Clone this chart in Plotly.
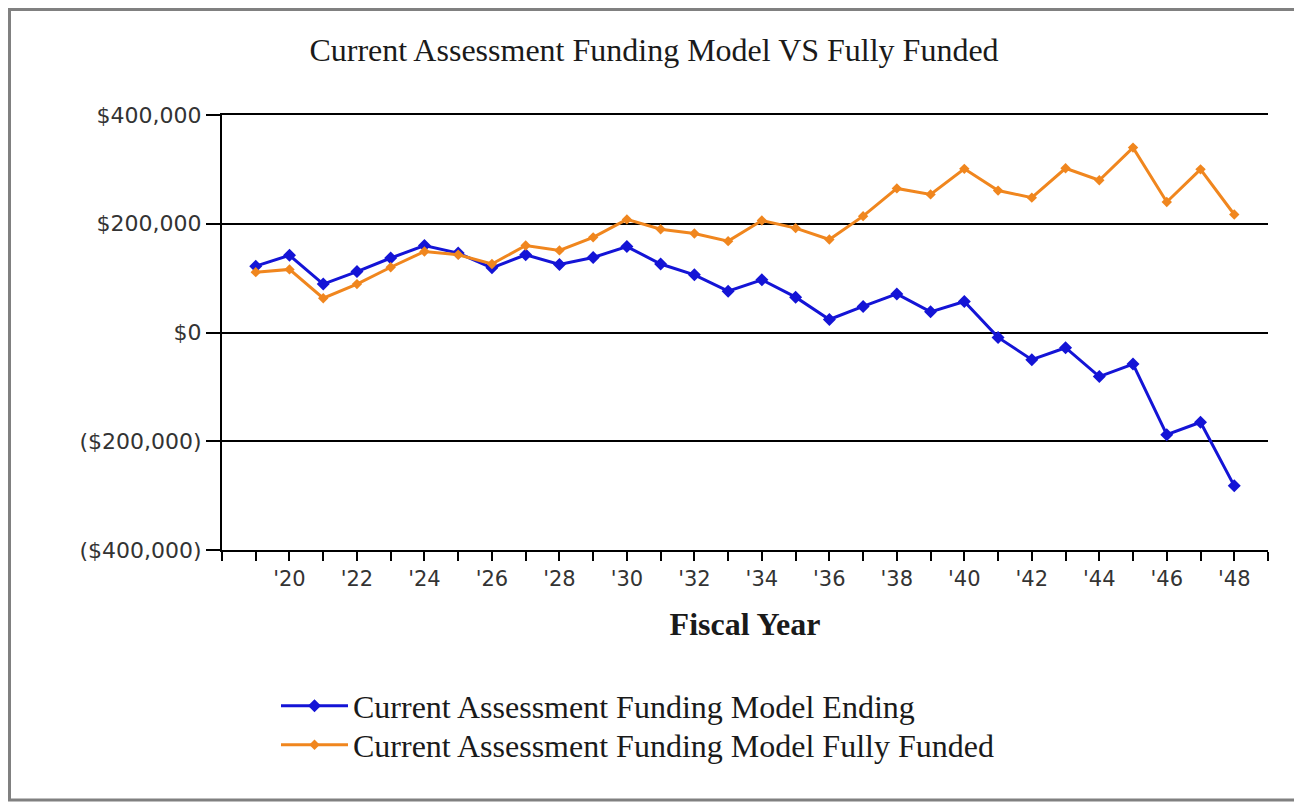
import plotly.graph_objects as go

years = list(range(2019, 2049))
ending = [122000, 142000, 89000, 112000, 137000, 160000, 146000, 119000, 143000, 125000,
          138000, 158000, 126000, 106000, 76000, 97000, 65000, 24000, 48000, 71000,
          38000, 57000, -9000, -50000, -28000, -81000, -58000, -188000, -165000, -282000]
fully_funded = [111000, 116000, 63000, 89000, 120000, 149000, 143000, 126000, 160000, 151000,
                175000, 208000, 190000, 182000, 168000, 206000, 192000, 171000, 214000, 265000,
                254000, 301000, 261000, 248000, 302000, 280000, 340000, 240000, 300000, 217000]
series_names = ["Current Assessment Funding Model Ending",
                "Current Assessment Funding Model Fully Funded"]
title_text = "Current Assessment Funding Model VS Fully Funded"
x_title = "Fiscal Year"
y_ticks = [400000, 200000, 0, -200000, -400000]
y_tick_labels = ["$400,000", "$200,000", "$0", "($200,000)", "($400,000)"]
x_tick_years = list(range(2018, 2050))
x_tick_labels = ["'" + str(y)[2:] if y % 2 == 0 and 2020 <= y <= 2048 else "" for y in x_tick_years]

BLUE = "#1414D6"
ORANGE = "#F0861E"

# page offset of the figure div (default body margin)
OFF = 8
W, H = 1302 - OFF, 804 - OFF
PL, PR, PT, PB = 222, 1268, 115, 550  # plot area in page pixels
L, T = PL - OFF, PT - OFF
R, B = W - (PR - OFF), H - (PB - OFF)
pw = W - L - R
ph = H - T - B


def px_x(px):
    return (px - OFF - L) / pw


def px_y(py):
    return (H - B - (py - OFF)) / ph


fig = go.Figure()
fig.add_trace(go.Scatter(
    x=years, y=ending, name=series_names[0], mode="lines+markers",
    line=dict(color=BLUE, width=3),
    marker=dict(symbol="diamond", size=10, color=BLUE),
    legend="legend",
))
fig.add_trace(go.Scatter(
    x=years, y=fully_funded, name=series_names[1], mode="lines+markers",
    line=dict(color=ORANGE, width=3),
    marker=dict(symbol="diamond", size=8, color=ORANGE),
    legend="legend2",
))

legend_font = dict(family="Liberation Serif", size=32, color="#1a1a1a")
legend_common = dict(xanchor="left", yanchor="middle", font=legend_font, itemwidth=67,
                     bgcolor="rgba(0,0,0,0)", borderwidth=0)

fig.update_layout(
    width=W, height=H,
    margin=dict(l=L, r=R, t=T, b=B, autoexpand=False),
    paper_bgcolor="white", plot_bgcolor="white",
    title=dict(text=title_text, x=(654 - OFF) / W, xanchor="center", y=1 - (50 - OFF) / H,
               yanchor="middle",
               font=dict(family="Liberation Serif", size=32, color="#1a1a1a")),
    showlegend=True,
    legend=dict(x=px_x(276), y=px_y(706), **legend_common),
    legend2=dict(x=px_x(276), y=px_y(745), **legend_common),
    xaxis=dict(
        range=[2018, 2049], tickmode="array", tickvals=x_tick_years, ticktext=x_tick_labels,
        ticks="outside", ticklen=9, tickwidth=1.5, tickcolor="black",
        showline=True, linecolor="black", linewidth=2, mirror=True,
        showgrid=False, zeroline=False,
        tickfont=dict(family="DejaVu Sans", size=21, color="#333333"),
        title=dict(text="<b>" + x_title + "</b>", standoff=22,
                   font=dict(family="Liberation Serif", size=32, color="#1a1a1a")),
    ),
    yaxis=dict(
        range=[-400000, 400000], tickmode="array", tickvals=y_ticks, ticktext=y_tick_labels,
        ticks="outside", ticklen=14, tickwidth=1.5, tickcolor="black",
        showline=True, linecolor="black", linewidth=2,
        showgrid=True, gridcolor="black", gridwidth=1.5, zeroline=False,
        tickfont=dict(family="DejaVu Sans", size=22, color="#333333"),
    ),
    shapes=[dict(type="rect", xref="paper", yref="paper",
                 x0=px_x(9.5), x1=px_x(1296), y0=px_y(800), y1=px_y(9.5),
                 line=dict(color="#808080", width=3), fillcolor="rgba(0,0,0,0)", layer="below")],
)

fig.write_html("out.html")
